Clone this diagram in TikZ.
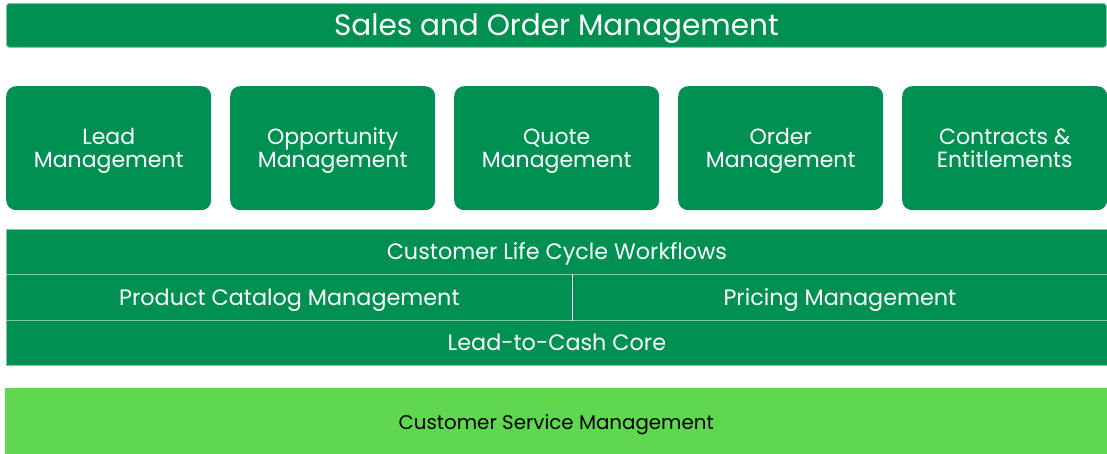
\documentclass[tikz,border=0pt]{standalone}
\usepackage{fontspec}
\setmainfont{Poppins}
\setlength{\lineskiplimit}{-20pt}
\definecolor{dgreen}{HTML}{009152}
\definecolor{lgreen}{HTML}{5FD84F}
\definecolor{edge}{HTML}{7FCBA8}
\begin{document}
\begin{tikzpicture}[x=1pt,y=-1pt,
  band/.style={fill=dgreen,draw=edge,line width=0.8pt,text=white,inner sep=0pt,anchor=north west},
  modbox/.style={fill=dgreen,draw=none,rounded corners=10pt,anchor=north west,minimum width=205pt,minimum height=124pt},
  modtxt/.style={text=white,align=center,inner sep=0pt,font=\fontsize{22}{23}\selectfont,text height=44pt,text depth=6pt},
  rowtxt/.style={font=\fontsize{22.3}{24}\selectfont,text height=22pt,text depth=6pt}]
\useasboundingbox (0,0) rectangle (1107,454);
\node[band,rounded corners=3pt,minimum width=1100pt,minimum height=44pt,font=\fontsize{29.5}{32}\selectfont,text height=26pt,text depth=6pt] (title) at (6,3) {Sales and Order Management};
\foreach \i/\t in {0/{Lead\\Management},1/{Opportunity\\Management},2/{Quote\\Management},3/{Order\\Management},4/{Contracts \&\\Entitlements}}{
  \node[modbox] (m\i) at (6+224*\i,86) {};
  \node[modtxt] (t\i) at (m\i.center) {\t};
}
\node[band,rowtxt,minimum width=1101pt,minimum height=45pt] (clc) at (6,229) {Customer Life Cycle Workflows};
\node[band,rowtxt,minimum width=566pt,minimum height=46pt] (pcm) at (6,274) {Product Catalog Management};
\node[band,rowtxt,minimum width=535pt,minimum height=46pt] (prm) at (572,274) {Pricing Management};
\node[band,rowtxt,minimum width=1101pt,minimum height=45pt] (l2c) at (6,320) {Lead-to-Cash Core};
\node[fill=lgreen,draw=none,inner sep=0pt,anchor=north west,minimum width=1102pt,minimum height=66pt,font=\fontsize{19.8}{22}\selectfont,text height=21pt,text depth=5pt] (csm) at (5,388) {Customer Service Management};
\draw[white,line width=0.8pt] (pcm.north east) -- (pcm.south east);
\end{tikzpicture}
\end{document}
